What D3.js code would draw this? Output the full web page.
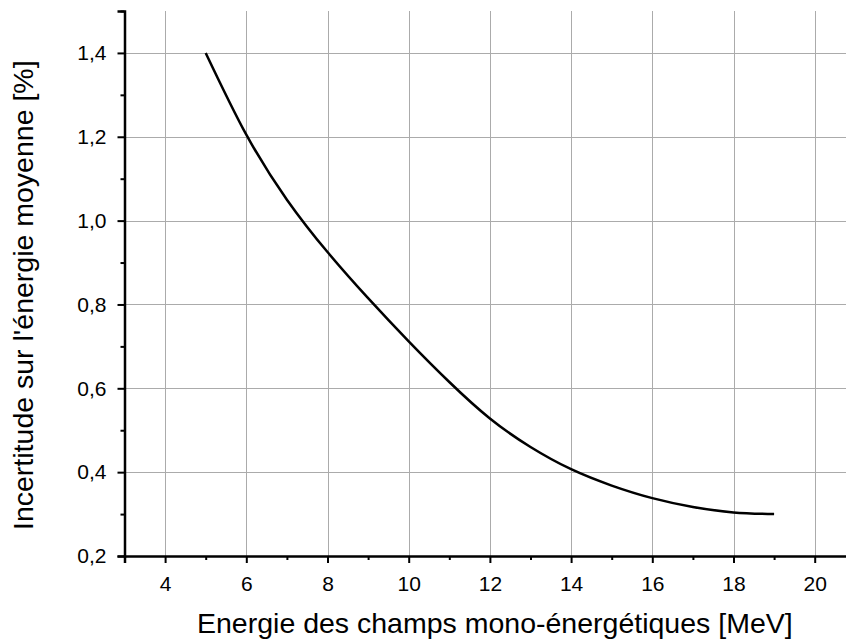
<!DOCTYPE html>
<html>
<head>
<meta charset="utf-8">
<script src="https://cdn.jsdelivr.net/npm/d3@7"></script>
<style>
  html, body { margin: 0; padding: 0; background: #fff; }
  svg { display: block; font-family: "Liberation Sans", Arial, sans-serif; }
</style>
</head>
<body>
<div id="chart"></div>
<script>
// Energy of mono-energetic fields [MeV] vs uncertainty on mean energy [%]
const energies = [5, 6, 7, 8, 9, 10, 11, 12, 13, 14, 15, 16, 17, 18, 19];
const uncertainty = [1.40, 1.205, 1.05, 0.925, 0.815, 0.712, 0.615, 0.528, 0.46, 0.407, 0.368, 0.338, 0.317, 0.304, 0.300];

const xMajor = [4, 6, 8, 10, 12, 14, 16, 18, 20];
const xMinor = [3, 5, 7, 9, 11, 13, 15, 17, 19, 21];
const yMajor = [0.2, 0.4, 0.6, 0.8, 1.0, 1.2, 1.4];
const yMinor = [0.3, 0.5, 0.7, 0.9, 1.1, 1.3, 1.5];

const xTitle = "Energie des champs mono-énergétiques [MeV]";
const yTitle = "Incertitude sur l'énergie moyenne [%]";

const W = 846, H = 641;
const x = d3.scaleLinear().domain([3, 21]).range([124.5, 855.3]);
const y = d3.scaleLinear().domain([0.2, 1.5]).range([556, 11]);
const fmt = d => d3.format(".1f")(d).replace(".", ",");

const svg = d3.select("#chart").append("svg")
  .attr("width", W).attr("height", H).attr("viewBox", `0 0 ${W} ${H}`);

// grid
const grid = svg.append("g").attr("stroke", "#ababab").attr("stroke-width", 1);
grid.selectAll("line.v").data(xMajor).join("line").attr("class", "v")
  .attr("x1", d => Math.round(x(d)) + 0.5).attr("x2", d => Math.round(x(d)) + 0.5)
  .attr("y1", y(1.5)).attr("y2", y(0.2));
grid.selectAll("line.h").data(yMajor.slice(1)).join("line").attr("class", "h")
  .attr("x1", x(3)).attr("x2", W)
  .attr("y1", d => Math.round(y(d)) + 0.5).attr("y2", d => Math.round(y(d)) + 0.5);

// curve
const line = d3.line().x((d, i) => x(energies[i])).y(d => y(d)).curve(d3.curveNatural);
svg.append("path").datum(uncertainty)
  .attr("d", line).attr("fill", "none").attr("stroke", "#000").attr("stroke-width", 2.5);

// axes
const axisStyle = g => {
  g.select(".domain").attr("stroke", "#000").attr("stroke-width", 2.5);
  g.selectAll(".tick line").attr("stroke", "#000").attr("stroke-width", 2);
  g.selectAll(".tick text").attr("fill", "#000").style("font-size", "21px")
    .style("font-family", '"Liberation Sans", Arial, sans-serif');
};

svg.append("g").attr("transform", `translate(0,${y(0.2)})`)
  .call(d3.axisBottom(x).tickValues(xMinor).tickSize(4).tickFormat(""))
  .call(g => g.select(".domain").remove())
  .call(axisStyle);
svg.append("g").attr("transform", `translate(0,${y(0.2)})`)
  .call(d3.axisBottom(x).tickValues(xMajor).tickSizeOuter(0).tickSize(7).tickPadding(13).tickFormat(d3.format("d")))
  .call(axisStyle);

svg.append("g").attr("transform", `translate(${x(3)},0)`)
  .call(d3.axisLeft(y).tickValues(yMinor).tickSize(4).tickFormat(""))
  .call(g => g.select(".domain").remove())
  .call(axisStyle);
svg.append("g").attr("transform", `translate(${x(3)},0)`)
  .call(d3.axisLeft(y).tickValues(yMajor).tickSizeOuter(0).tickSize(7).tickPadding(11).tickFormat(fmt))
  .call(axisStyle);

// titles
svg.append("text")
  .attr("x", 197).attr("y", 633).attr("text-anchor", "start")
  .style("font-size", "28.5px").attr("fill", "#000").text(xTitle);
svg.append("text")
  .attr("transform", "translate(33,530) rotate(-90)").attr("text-anchor", "start")
  .style("font-size", "28.5px").attr("fill", "#000").text(yTitle);
</script>
</body>
</html>
